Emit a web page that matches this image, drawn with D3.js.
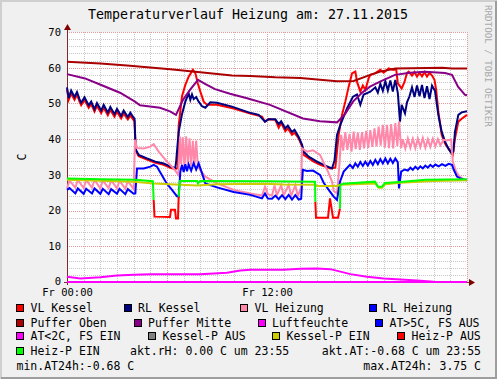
<!DOCTYPE html>
<html><head><meta charset="utf-8">
<script src="https://cdn.jsdelivr.net/npm/d3@7/dist/d3.min.js"></script>
<style>body{margin:0;background:#fff}svg{display:block}</style>
</head><body>
<svg id="c" width="497" height="379"></svg>
<script>
// ---------- data (time in hours since Fr 00:00, values in C) ----------
const title = "Temperaturverlauf Heizung am: 27.11.2015";
const yTicks = [0,10,20,30,40,50,60,70];
const xTickHours = [0,12];
const xTickLabels = ["Fr 00:00","Fr 12:00"];

const vlKessel = [[0,54],[0.1,51],[0.25,52.8],[0.45,51],[0.6,52.5],[0.75,50.5],[0.85,49.5],[1.05,51],[1.3,48.8],[1.45,49.8],[1.65,47.7],[1.8,49.3],[2.05,47.3],[2.2,48.8],[2.45,46.7],[2.6,48.2],[2.85,46.3],[3.0,47.7],[3.25,45.8],[3.4,47.2],[3.65,45.5],[3.8,46.6],[4.0,45.3],[4.05,45.2],
[4.12,36.8],[4.3,35.2],[4.8,34.3],[5.3,33.4],[5.8,32.8],[6.2,32],[6.5,31.6],[6.66,32],[6.7,43.7],[6.9,52],[7.1,55.2],[7.3,57.5],[7.55,59.4],[7.7,58.5],[7.85,55.6],[8.0,53.3],[8.2,50.5],[8.4,49.6],[9,49.6],[10,48.6],[11,47.2],[11.7,46.3],[11.88,44.9],[12.1,45.6],[12.5,45.4],
[12.7,43.2],[12.85,44.5],[13.1,42.2],[13.25,43],[13.5,41.2],[13.65,41.8],[13.9,40.2],[14.1,38],[14.2,35.6],[14.8,33.7],[15.2,32.8],[15.8,31.8],[16.1,32],[16.3,41.2],[16.5,46.8],[16.7,50.5],[16.9,54.7],[17.1,58.4],[17.3,58.9],[17.4,56.1],[17.6,53.3],[17.75,55],[17.9,53.8],[18.1,57],[18.2,58],[18.5,58.5],[18.8,59.4],[19.0,58.6],[19.3,59.8],[19.6,59.4],[19.75,59.6],[19.85,55.6],[20.08,54.2],[20.25,56],[20.4,58.5],[20.5,58.9],[20.7,57.8],[20.85,58.8],[21.0,57.5],[21.15,58.6],[21.3,57.6],[21.45,58.8],[21.6,57.5],[21.75,58.6],[21.9,57.8],[22.05,56.6],[22.15,53.8],[22.28,47.7],[22.48,41.2],[22.68,38.8],[22.88,37.4],[23.15,35.6],[23.28,40.2],[23.48,44.9],[23.68,45.7],[24,46.8]];

const rlKessel = [[0,54.5],[0.1,51.5],[0.25,53.6],[0.45,51.8],[0.6,53.2],[0.75,51.2],[0.85,50.2],[1.05,51.7],[1.3,49.5],[1.45,50.5],[1.65,48.4],[1.8,50.1],[2.05,48],[2.2,49.6],[2.45,47.4],[2.6,49],[2.85,47],[3.0,48.5],[3.25,46.5],[3.4,48],[3.65,46.2],[3.8,47.4],[4.0,46],[4.05,45.8],
[4.12,37.2],[4.3,35.6],[4.8,34.6],[5.3,33.7],[5.8,33.2],[6.2,32.3],[6.5,31.9],[6.55,33.8],[6.7,42],[6.9,47],[7.1,50.5],[7.3,52.8],[7.4,51],[7.5,52.5],[7.6,51.2],[7.75,51.8],[7.9,50.5],[8.1,49.2],[8.3,48.8],[8.6,50.3],[9,50.2],[9.9,49.1],[10.9,47.5],[11.5,46.8],[11.88,44.9],[12.1,45.6],[12.5,45.6],
[12.7,44.2],[12.85,45],[13.1,43],[13.25,43.8],[13.5,42],[13.65,42.6],[13.9,40.6],[14.1,38.5],[14.2,36.5],[14.5,35.1],[15.0,33.7],[15.5,32.6],[15.9,31.8],[16.05,34],[16.2,41.2],[16.4,44],[16.8,48.6],[17.16,51.9],[17.4,52.5],[17.6,49.6],[17.8,52.5],[18.2,53.3],[18.5,54.5],[18.65,53],[18.8,55.5],[18.95,53.5],[19.1,56.2],[19.25,53.6],[19.4,56.4],[19.55,53.3],[19.7,56.6],[19.85,52.9],
[19.98,44.9],[20.08,49.6],[20.28,47.2],[20.4,50.3],[20.55,52],[20.7,54.5],[20.85,51.8],[21.0,55],[21.15,52],[21.3,55.2],[21.45,51.5],[21.6,54.8],[21.75,51.2],[21.9,55],[22.08,53.5],[22.28,46.8],[22.48,42.1],[22.68,39.3],[22.88,37.4],[23.08,36],[23.18,36.5],[23.28,42.1],[23.48,46.8],[23.68,47.5],[24,47.8]];

const vlHeizung = [[0,26.2],[0.15,28.4],[0.5,26.4],[0.65,28.6],[1,26.3],[1.15,28.5],[1.5,26.4],[1.65,28.6],[2,26.2],[2.15,28.4],[2.5,26.3],[2.65,28.5],[3,26.2],[3.15,28.4],[3.5,26.1],[3.65,28.3],[4.0,26.0],
[4.08,39.8],[4.2,37.5],[4.6,37.4],[5.0,37.9],[5.2,38.6],[5.5,36.5],[6.0,33.7],[6.4,31.8],[6.68,30],
[6.78,40.7],[6.85,33],[6.95,40.5],[7.05,32],[7.15,40.8],[7.25,33],[7.35,40.2],[7.45,32.5],[7.55,39.5],[7.65,33],[7.75,39.6],[7.85,32.5],[7.98,31.4],
[8.3,29.5],[9,27.6],[10,25.8],[11,24.8],[11.7,24.2],[11.88,26.7],[12.05,24.6],[12.3,24.2],[12.45,27],[12.6,24.3],[12.85,27.1],[13.0,24.2],[13.3,27.2],[13.45,24.1],[13.7,27.1],[13.85,24.0],[14.05,26.5],
[14.1,37.4],[14.4,36.5],[14.76,36.9],[15.18,35.6],[15.66,30.9],[15.9,28.1],[16.0,25.5],[16.2,24.8],[16.35,33],
[16.45,41.2],[16.57,36.8],[16.7,42],[16.82,37],[16.95,41.5],[17.07,36.5],[17.2,42.1],[17.32,37.2],[17.45,41.8],[17.57,37],[17.7,42],[17.82,37.4],[17.95,42.3],[18.07,37.5],[18.2,42.5],[18.32,37.8],[18.45,43],[18.57,38],[18.7,43.5],[18.82,38.2],[18.95,44],[19.07,37.6],[19.2,44],[19.32,37.5],[19.45,44.2],[19.57,37.4],[19.7,44.5],[19.82,38],
[19.92,44.9],[20.05,37.5],[20.15,40],[20.3,37.4],[20.45,40.2],[20.6,37.6],[20.75,40.1],[20.9,37.5],[21.05,40.2],[21.2,37.8],[21.35,40.3],[21.5,37.6],[21.65,40],[21.8,37.8],[21.95,40.1],[22.1,38],[22.25,40],[22.4,38.3],[22.6,39.8],[22.8,39.6],[23.05,39.9],[23.15,33.7],[23.35,30.9],[23.55,29.5],[23.85,28.6],[24,28.4]];

const rlHeizung = [[0,25.8],[0.15,26.3],[0.5,24.8],[0.65,26.2],[1,24.7],[1.15,26.1],[1.5,24.8],[1.65,26.2],[2,24.7],[2.15,26.1],[2.5,24.6],[2.65,26],[3,24.7],[3.15,26.1],[3.5,24.6],[3.65,26],[4.0,24.7],[4.1,24.8],
[4.2,31.8],[4.6,31.8],[5.0,32.3],[5.2,32.8],[5.4,32.3],[5.98,27.6],[6.3,25.8],[6.6,24],[6.7,23.9],
[6.8,30.9],[6.9,32.8],[7.0,30.8],[7.1,33],[7.2,31],[7.3,32.9],[7.45,31.2],[7.6,33.3],[7.75,31.5],[7.9,33.2],[8.1,30.5],[8.3,27.6],[9,26.5],[10,25.2],[11,24.4],[11.7,23.4],[11.88,24.8],[12.05,23.4],
[12.3,23.3],[12.5,24.2],[12.7,23.2],[12.9,24.3],[13.1,23.2],[13.3,24.4],[13.5,23.1],[13.7,24.3],[13.9,23.1],[14.05,23.3],
[14.15,31.4],[14.4,31.1],[14.76,31.2],[15.18,30],[15.4,27.8],[15.78,25.3],[16,23.9],[16.2,23],[16.38,28.1],[16.6,30.9],[16.98,32.8],[17.15,31.9],[17.3,33.2],[17.45,32.3],[17.6,33.6],[17.75,32.5],[17.9,33.7],[18.05,32.6],[18.2,33.9],[18.35,32.8],[18.5,34.2],[18.65,33],[18.8,34.4],[18.95,33.2],[19.1,34.6],[19.25,33.2],[19.4,34.5],[19.55,33.3],[19.7,34.6],[19.85,33.5],
[19.92,26.2],[20.05,30.9],[20.25,31.5],[20.45,31.2],[20.6,32],[20.75,31.4],[20.9,32.3],[21.05,31.6],[21.2,32.4],[21.35,31.8],[21.5,32.6],[21.65,32],[21.8,32.8],[21.95,32.2],[22.1,32.9],[22.3,32.4],[22.5,33],[22.7,32.5],[22.9,33.1],[23.1,32.8],[23.2,31.5],[23.4,29.5],[23.6,29],[23.85,28.6],[24,28.5]];

const pufferOben = [[0,61.7],[2,61.2],[3.6,60.6],[6.2,59.6],[7.7,58.9],[9.9,57.8],[11,57.7],[12.5,57.3],[14,57.1],[16.2,56.2],[17.2,56.3],[18.2,58],[18.8,58.9],[19.7,59.8],[22.5,60],[23.1,59.8],[24,59.8]];

const pufferMitte = [[0,58.2],[1.08,57],[1.98,55.3],[3.18,53],[4.08,50.5],[4.38,49.5],[5.58,48.8],[6.18,47.8],[6.54,46.8],[6.96,51],[7.38,53.8],[7.86,56.6],[8.28,55.5],[8.88,54],[9.78,52.7],[10.86,51.4],[12.18,49.6],[14.16,45.8],[15.18,45],[16.2,44.7],[16.68,47],[17.16,50.5],[17.7,53],[18.18,54.7],[18.78,56.1],[19.68,58],[20.58,58.6],[21.48,58.9],[22.68,58.5],[23.1,58],[23.46,54.7],[23.88,52.4],[24,52.3]];

const luftfeuchte = [[0,0],[24,0]];

const aussenTemp = [[0,1.5],[0.8,1.0],[2,1.3],[3,1.8],[4,2.0],[5,2.2],[8,2.2],[9.6,2.6],[10.4,3.2],[11,3.4],[13,3.4],[14,3.7],[15,3.75],[15.8,3.6],[16.4,2.9],[17,2.2],[18,1.5],[19,1.0],[20,0.7],[21,0.4],[22,0.1],[23,-0.3],[24,-0.68]];

const kesselPEin = [[0,28.6],[4,28.1],[5.2,27.6],[6.5,27.3],[7.8,27],[9,27.4],[11.9,27.5],[13,27.3],[14.9,27.2],[15,26.9],[16.2,26.9],[16.4,27.2],[18.5,27.6],[18.7,26.4],[18.9,26.4],[19.1,27.4],[20,27.8],[22,28.3],[24,28.5]];

const heizPEin = [
  [[0,29],[2,28.8],[4.1,28.6],[5.15,28.2],[5.2,23]],
  [[6.7,23.9],[6.78,28.3],[7.8,28.3],[7.86,27.6],[7.98,28.3],[11.9,28.2],[14.88,28.1],[14.9,22.5]],
  [[16.38,20.6],[16.4,27.2],[16.56,27.5],[18.48,28.1],[18.66,26.7],[18.9,26.7],[19.08,27.7],[20,28],[21.5,28.6],[24,28.8]]
];
const heizPAus = [
  [[5.2,23],[5.25,18.3],[6.18,18.2],[6.24,20.2],[6.48,20.2],[6.54,17.8],[6.66,17.8],[6.7,23.9]],
  [[14.9,22.5],[14.94,18],[15.66,18],[15.78,23.4],[15.96,18],[16.26,18],[16.38,20.6]]
];

const legendRows = [
  [["VL Kessel","#FF0000"],["RL Kessel","#000080"],["VL Heizung","#FF88AA"],["RL Heizung","#0000FF"]],
  [["Puffer Oben","#AA0000"],["Puffer Mitte","#880088"],["Luftfeuchte","#FF00FF"],["AT>5C, FS AUS","#0000FF"]],
  [["AT<2C, FS EIN","#FF00FF"],["Kessel-P AUS","#808080"],["Kessel-P EIN","#CCCC00"],["Heiz-P AUS","#FF0000"]],
  [["Heiz-P EIN","#00FF00"]]
];
const gprints = ["akt.rH: 0.00 C um 23:55","akt.AT:-0.68 C um 23:55","min.AT24h:-0.68 C","max.AT24h: 3.75 C"];

// ---------- layout ----------
const W = 497, H = 379;
const L = 67, R = 467, T = 32, B = 282;
const svg = d3.select("#c");
const mono = "'DejaVu Sans Mono', monospace";

// background + 3D frame
svg.append("rect").attr("width",W).attr("height",H).attr("fill","#F0F0F0");
svg.append("path").attr("d",`M1,${H} V1 H${W}`).attr("stroke","#CFCFCF").attr("stroke-width",2).attr("fill","none");
svg.append("path").attr("d",`M1,${H-1} H${W-1} V1`).attr("stroke","#9E9E9E").attr("stroke-width",2).attr("fill","none");

const x = d3.scaleLinear().domain([0,24]).range([L,R]);
const y = d3.scaleLinear().domain([0,70]).range([B,T]).clamp(true);

// canvas
svg.append("rect").attr("x",L).attr("y",T).attr("width",R-L).attr("height",B-T).attr("fill","#FFFFFF");

// grid
const g = svg.append("g").attr("shape-rendering","crispEdges");
d3.range(0,71,2).filter(v=>v%10!==0).forEach(v=>{
  g.append("line").attr("x1",L).attr("x2",R).attr("y1",Math.round(y(v))+0.5).attr("y2",Math.round(y(v))+0.5)
   .attr("stroke","#C8C8C8").attr("stroke-dasharray","1,1");
});
d3.range(0,25,1).filter(h=>h%6!==0).forEach(h=>{
  g.append("line").attr("y1",T).attr("y2",B).attr("x1",Math.round(x(h))+0.5).attr("x2",Math.round(x(h))+0.5)
   .attr("stroke","#C8C8C8").attr("stroke-dasharray","1,1");
});
yTicks.filter(v=>v>0).forEach(v=>{
  g.append("line").attr("x1",L).attr("x2",R).attr("y1",Math.round(y(v))+0.5).attr("y2",Math.round(y(v))+0.5)
   .attr("stroke","#E89A9A").attr("stroke-dasharray","1,1");
});
[6,12,18,24].forEach(h=>{
  g.append("line").attr("y1",T).attr("y2",B).attr("x1",Math.round(x(h))+0.5).attr("x2",Math.round(x(h))+0.5)
   .attr("stroke","#E89A9A").attr("stroke-dasharray","1,1");
});

// y axis labels via d3 axis
const yAxis = d3.axisLeft(y).tickValues(yTicks).tickSize(0).tickPadding(6).tickFormat(d3.format("d"));
const ya = svg.append("g").attr("transform",`translate(${L},0)`).call(yAxis);
ya.select(".domain").remove();
ya.selectAll("text").attr("font-family",mono).attr("font-size","10.5px").attr("fill","#000");
ya.selectAll(".tick").filter(d=>d===0).select("text").attr("dy","0.2em");

const xAxis = d3.axisBottom(x).tickValues(xTickHours).tickSize(0).tickPadding(7).tickFormat((d,i)=>xTickLabels[i]);
const xa = svg.append("g").attr("transform",`translate(0,${B})`).call(xAxis);
xa.select(".domain").remove();
xa.selectAll("text").attr("font-family",mono).attr("font-size","10.5px").attr("fill","#000");

// axes lines (drawn below the series, as in the reference)
const ax = svg.append("g").attr("shape-rendering","crispEdges");
ax.append("line").attr("x1",L+0.5).attr("x2",L+0.5).attr("y1",B+3).attr("y2",T-4).attr("stroke","#7F2A2A");
ax.append("line").attr("x1",L-3).attr("x2",R+4).attr("y1",B+0.5).attr("y2",B+0.5).attr("stroke","#7F2A2A");

// series lines
const line = d3.line().x(d=>x(d[0])).y(d=>y(d[1]));
const plot = svg.append("g");
function draw(data,color){
  plot.append("path").datum(data).attr("d",line).attr("fill","none").attr("stroke",color)
    .attr("stroke-width",2).attr("stroke-linejoin","miter");
}
draw(vlKessel,"#FF0000");
draw(rlKessel,"#000080");
draw(vlHeizung,"#FF88AA");
draw(rlHeizung,"#0000FF");
draw(pufferOben,"#AA0000");
draw(pufferMitte,"#880088");
draw(aussenTemp,"#FF00FF");
draw(luftfeuchte,"#FF00FF");
draw(kesselPEin,"#CCCC00");
heizPAus.forEach(r=>draw(r,"#FF0000"));
heizPEin.forEach(r=>draw(r,"#00FF00"));

// arrows
svg.append("path").attr("d",`M${L-3},${T-2} L${L+0.5},${T-8} L${L+4},${T-2} Z`).attr("fill","#7F0000");
svg.append("path").attr("d",`M${R+2},${B-3} L${R+8},${B+0.5} L${R+2},${B+4} Z`).attr("fill","#7F0000");

// title
svg.append("text").attr("x",248).attr("y",14).attr("text-anchor","middle").attr("dominant-baseline","central")
  .attr("font-family",mono).attr("font-size","13.3px").attr("fill","#000").text(title);

// y label
svg.append("text").attr("transform","translate(22,157) rotate(-90)").attr("text-anchor","middle")
  .attr("dominant-baseline","central").attr("font-family",mono).attr("font-size","11.5px").text("C");

// watermark
svg.append("text").attr("transform","translate(488.5,5) rotate(90)").attr("text-anchor","start")
  .attr("dominant-baseline","central").attr("font-family",mono).attr("font-size","9.2px")
  .attr("fill","#A8A8A8").text("RRDTOOL / TOBI OETIKER");

// legend
const rowY = [307.5,322.5,336,351,366];
const boxX = [[16,123.5,240,368.5],[16,133.5,257.5,375],[16,148,272,397],[16]];
const lg = svg.append("g").attr("font-family",mono).attr("font-size","11.5px");
legendRows.forEach((row,ri)=>{
  row.forEach((it,ci)=>{
    const bx = boxX[ri][ci];
    lg.append("rect").attr("x",bx+0.5).attr("y",rowY[ri]-3.5).attr("width",7).attr("height",7)
      .attr("fill",it[1]).attr("stroke","#000").attr("stroke-width",1).attr("shape-rendering","crispEdges");
    lg.append("text").attr("x",bx+14.5).attr("y",rowY[ri]).attr("dominant-baseline","central").text(it[0]);
  });
});
lg.append("text").attr("x",130).attr("y",rowY[3]).attr("dominant-baseline","central").text(gprints[0]);
lg.append("text").attr("x",481).attr("y",rowY[3]).attr("text-anchor","end").attr("dominant-baseline","central").text(gprints[1]);
lg.append("text").attr("x",16.5).attr("y",rowY[4]).attr("dominant-baseline","central").text(gprints[2]);
lg.append("text").attr("x",481).attr("y",rowY[4]).attr("text-anchor","end").attr("dominant-baseline","central").text(gprints[3]);
</script>
</body></html>
